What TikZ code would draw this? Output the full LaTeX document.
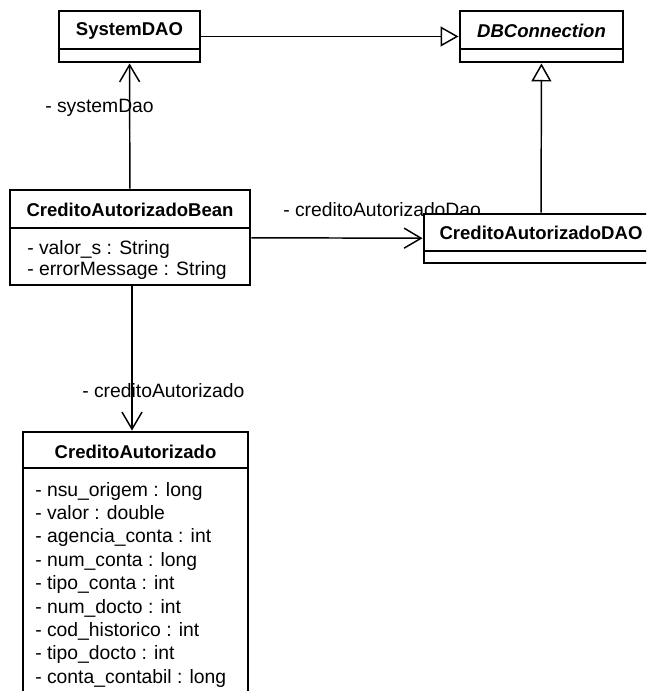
\documentclass[tikz,border=0pt]{standalone}
\usepackage{fontspec}
\setmainfont{Liberation Sans}
\usetikzlibrary{arrows.meta}
\begin{document}
\begin{tikzpicture}[x=0.75pt,y=-0.75pt,
  classbox/.style={draw, fill=white, line width=2.2pt, inner sep=0pt},
  ctitle/.style={font=\fontsize{13.9pt}{16pt}\selectfont\bfseries, inner sep=0pt},
  attr/.style={font=\fontsize{14.5pt}{17pt}\selectfont, inner sep=0pt, anchor=base west},
  role/.style={attr},
  sepline/.style={line width=1.3pt},
  conn/.style={line width=1.1pt},
  gen/.style={conn, -{Triangle[fill=white, length=13.5pt, width=15pt]}},
  assoc/.style={conn, -{Straight Barb[length=12.75pt, width=15pt]}},
]
\useasboundingbox (0,0) rectangle (646,691);
\clip (0,0) rectangle (646,691);

% association role names (drawn first, so boxes and lines lie over them)
\node[role] (lsys) at (45,113) {- systemDao};
\node[role] (ldao) at (283,217) {- creditoAutorizadoDao};
\node[role] (lca)  at (82,397) {- creditoAutorizado};

% class boxes
\node[classbox, minimum width=105.75pt, minimum height=38.25pt] (sys) at (129.5,36.5) {};
\node[classbox, minimum width=122.25pt, minimum height=38.25pt] (db) at (541.5,36.5) {};
\node[classbox, minimum width=180pt, minimum height=71.25pt] (bean) at (130,237.5) {};
\node[classbox, minimum width=175.5pt, minimum height=36.75pt] (dao) at (541,238.5) {};
\node[classbox, minimum width=168.75pt, minimum height=216pt] (ca) at (135.5,576) {};

% compartment separators
\draw[sepline] (sys.west |- 0,49) -- (sys.east |- 0,49);
\draw[sepline] (db.west |- 0,49) -- (db.east |- 0,49);
\draw[sepline] (bean.west |- 0,228) -- (bean.east |- 0,228);
\draw[sepline] (dao.west |- 0,251) -- (dao.east |- 0,251);
\draw[sepline] (ca.west |- 0,468) -- (ca.east |- 0,468);

% class names
\node[ctitle] (tsys) at (129.5,31) {SystemDAO};
\node[ctitle, font=\fontsize{13.9pt}{16pt}\selectfont\bfseries\itshape] (tdb) at (541.5,31) {DBConnection};
\node[ctitle] (tbean) at (130,210) {CreditoAutorizadoBean};
\node[ctitle] (tdao) at (541,233) {CreditoAutorizadoDAO};
\node[ctitle] (tca) at (135.5,452) {CreditoAutorizado};

% attributes
\node[attr] (b1) at (27,254) {- valor\_s : String};
\node[attr] (b2) at (27,276) {- errorMessage : String};

\node[attr] (c1) at (35,496) {- nsu\_origem : long};
\node[attr] (c2) at (35,519.4) {- valor : double};
\node[attr] (c3) at (35,542.8) {- agencia\_conta : int};
\node[attr] (c4) at (35,566.2) {- num\_conta : long};
\node[attr] (c5) at (35,589.6) {- tipo\_conta : int};
\node[attr] (c6) at (35,613) {- num\_docto : int};
\node[attr] (c7) at (35,636.4) {- cod\_historico : int};
\node[attr] (c8) at (35,659.8) {- tipo\_docto : int};
\node[attr] (c9) at (35,683.2) {- conta\_contabil : long};

% generalizations
\draw[gen] (sys) -- (db);
\draw[gen] (dao) -- (db);

% associations
\draw[assoc] (bean) -- (sys);
\draw[assoc] (bean) -- (dao);
\draw[assoc] ([xshift=1.5pt]bean.south) -- ([xshift=1.5pt]bean.south |- ca.north);
\end{tikzpicture}
\end{document}
